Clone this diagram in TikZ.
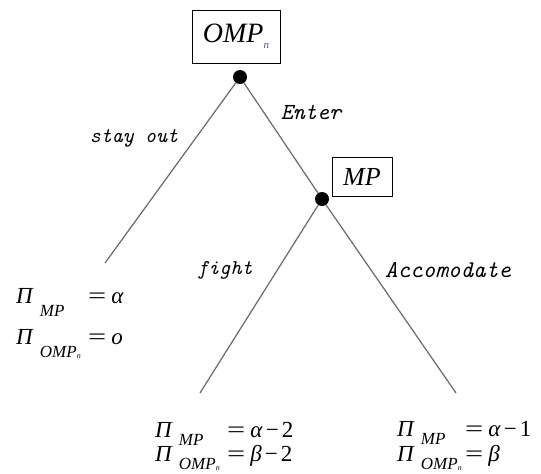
\documentclass[tikz,border=0pt]{standalone}
\usepackage{fontspec}
\usepackage{graphicx}
\setmainfont{Liberation Serif}
\setmonofont{Latin Modern Mono}
\newcommand{\subsz}{\fontsize{17}{17}\selectfont}
\newcommand{\mpsub}{{\subsz\textit{MP}}}
\newcommand{\ompsub}{{\subsz\textit{OMP}}\raisebox{-1pt}{\fontsize{8}{8}\selectfont\textit{n}}}
% #1 subscript, #2 right side, #3 width before "=", #4 lowering
\newcommand{\pay}[4]{\makebox[#3][l]{\textit{Π}\hspace{6pt}\raisebox{-#4}{#1}}\scalebox{1.4}[1]{=}\hspace{5pt}#2}
\newcommand{\mn}{\hspace{3pt}−\hspace{3pt}}
\definecolor{linegray}{RGB}{105,105,105}
\definecolor{nblue}{RGB}{70,90,140}
\tikzset{
  edge/.style={draw=linegray, line width=1.2pt},
  dotnode/.style={circle, fill=black, inner sep=0pt, minimum size=14pt},
  playerbox/.style={draw, line width=1pt, inner sep=0pt},
  movelabel/.style={inner sep=0pt},
  payoff/.style={font=\fontsize{23}{26}\selectfont, anchor=base west, inner sep=0pt}
}
\begin{document}
\begin{tikzpicture}[x=1pt,y=-1pt]
\useasboundingbox (0,0) rectangle (541,474);
\node[playerbox, minimum width=88pt, minimum height=53pt, font=\fontsize{28}{30}\selectfont] (omp) at (236,36.5) {\textit{OMP}\raisebox{-6pt}{\fontsize{11}{11}\selectfont\color{nblue}\textit{n}}};
\node[dotnode] (r) at (240,77) {};
\node[dotnode] (m) at (322,199) {};
\node[playerbox, minimum width=60pt, minimum height=39pt, font=\fontsize{26}{28}\selectfont] (mp) at (362,176.5) {\textit{MP}};
\coordinate (l1) at (105,263);
\coordinate (l2) at (200,393);
\coordinate (l3) at (456,393);
\draw[edge] (r) -- (l1);
\draw[edge] (r) -- (m);
\draw[edge] (m) -- (l2);
\draw[edge] (m) -- (l3);
\node[movelabel, font=\fontsize{21}{23}\selectfont\ttfamily\itshape] (so) at (134,138) {stay out};
\node[movelabel, font=\fontsize{23}{25}\selectfont\ttfamily\itshape] (en) at (311,112) {Enter};
\node[movelabel, font=\fontsize{21}{23}\selectfont\ttfamily\itshape] (fi) at (225,270) {fight};
\node[movelabel, font=\fontsize{24}{26}\selectfont\ttfamily\itshape] (ac) at (448,270) {Accomodate};
\node[payoff] (p1a) at (16,303) {\pay{\mpsub}{\textit{α}}{72pt}{13pt}};
\node[payoff] (p1b) at (16,344) {\pay{\ompsub}{\textit{o}}{72pt}{13pt}};
\node[payoff] (p2a) at (155,437) {\pay{\mpsub}{\textit{α}\mn 2}{72pt}{8pt}};
\node[payoff] (p2b) at (155,461) {\pay{\ompsub}{\textit{β}\mn 2}{72pt}{8pt}};
\node[payoff] (p3a) at (397,436) {\pay{\mpsub}{\textit{α}\mn 1}{68pt}{8pt}};
\node[payoff] (p3b) at (397,461) {\pay{\ompsub}{\textit{β}}{68pt}{8pt}};
\end{tikzpicture}
\end{document}
